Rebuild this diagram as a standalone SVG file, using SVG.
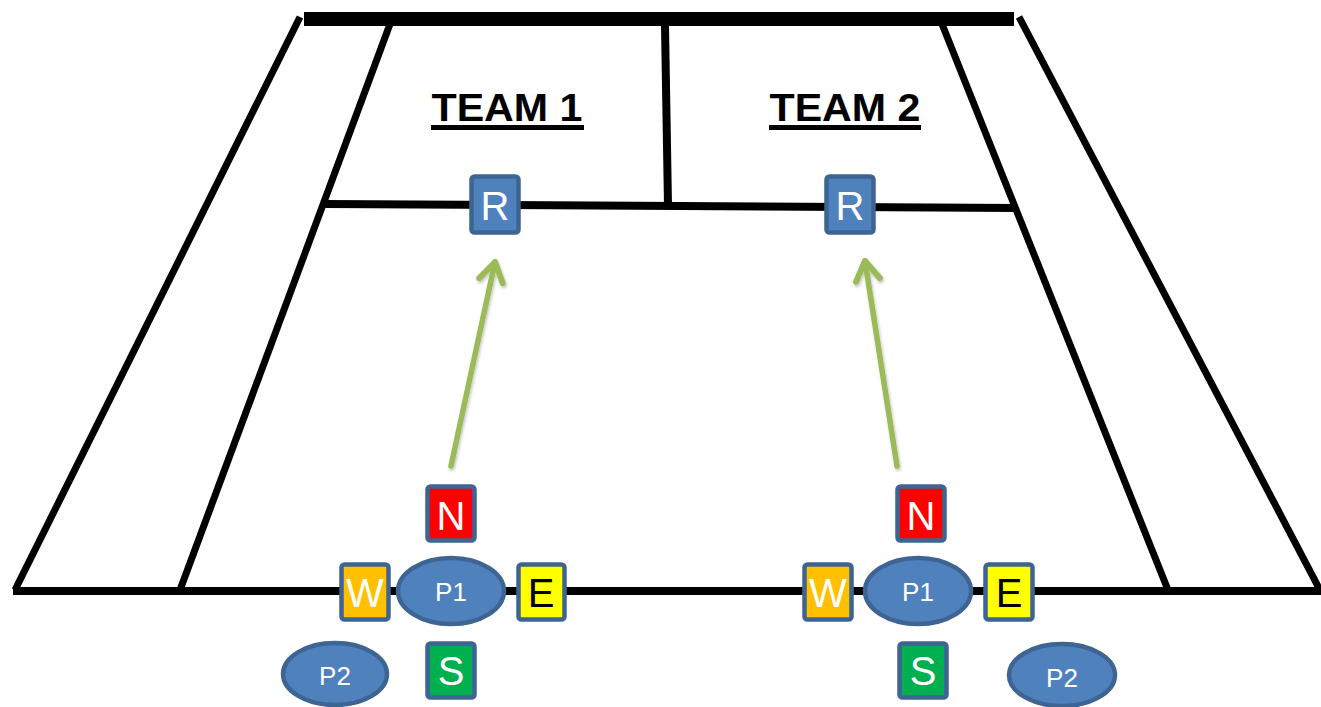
<svg xmlns="http://www.w3.org/2000/svg" width="1321" height="707" viewBox="0 0 1321 707">
  <style>
    .court { stroke: #000; fill: none; stroke-linecap: butt; }
    .box { stroke: #3D6493; stroke-width: 4.5; }
    .blue { fill: #4F81BD; }
    .lbl { font-family: "Liberation Sans", Arial, sans-serif; text-anchor: middle; fill: #fff; }
    .big { font-size: 40px; }
    .small { font-size: 26px; }
    .dark { fill: #000; }
    .team { font-family: "Liberation Sans", Arial, sans-serif; font-weight: bold; font-size: 39px; text-anchor: middle; fill: #000; }
    .arrow { stroke: #9BBB59; stroke-width: 5.5; fill: none; stroke-linecap: round; }
  </style>
  <defs>
    <marker id="chevron" markerUnits="userSpaceOnUse" viewBox="-28 -18 34 36" refX="0" refY="0" markerWidth="34" markerHeight="36" orient="auto" overflow="visible">
      <path d="M-19,-12 L0,0 L-19,12" fill="none" stroke="#9BBB59" stroke-width="6" stroke-linecap="round" stroke-linejoin="round"/>
    </marker>
    <filter id="soft" x="-50%" y="-10%" width="200%" height="120%">
      <feDropShadow dx="1" dy="2" stdDeviation="1.5" flood-color="#000" flood-opacity="0.25"/>
    </filter>
  </defs>

  <rect width="1321" height="707" fill="#fff"/>

  <!-- court lines -->
  <g id="court">
    <line class="court" x1="304" y1="19" x2="1014" y2="19" stroke-width="14"/>
    <line class="court" x1="300" y1="17" x2="15" y2="590" stroke-width="7"/>
    <line class="court" x1="1019" y1="17" x2="1320" y2="590" stroke-width="7"/>
    <line class="court" x1="390" y1="24" x2="180" y2="590" stroke-width="7"/>
    <line class="court" x1="942" y1="24" x2="1168" y2="590" stroke-width="7"/>
    <line class="court" x1="665" y1="26" x2="668" y2="206" stroke-width="8"/>
    <line class="court" x1="325" y1="204" x2="1016" y2="208" stroke-width="8"/>
    <line class="court" x1="13" y1="591" x2="1321" y2="591" stroke-width="8"/>
  </g>

  <!-- team headings -->
  <g id="team1-title">
    <text class="team" x="507" y="121" textLength="151" lengthAdjust="spacingAndGlyphs">TEAM 1</text>
    <rect x="431" y="125" width="153" height="5" fill="#000"/>
  </g>
  <g id="team2-title">
    <text class="team" x="845" y="121" textLength="151" lengthAdjust="spacingAndGlyphs">TEAM 2</text>
    <rect x="769" y="125" width="152" height="5" fill="#000"/>
  </g>

  <!-- connectors -->
  <g id="connectors" filter="url(#soft)">
    <line class="arrow" x1="451" y1="466" x2="495" y2="262" marker-end="url(#chevron)"/>
    <line class="arrow" x1="897" y1="466" x2="865" y2="261" marker-end="url(#chevron)"/>
  </g>

  <!-- receivers -->
  <g id="r1">
    <rect class="box blue" x="471.5" y="176.5" width="47" height="56" rx="3"/>
    <text class="lbl big" x="495" y="220">R</text>
  </g>
  <g id="r2">
    <rect class="box blue" x="826.5" y="176.5" width="47" height="56" rx="3"/>
    <text class="lbl big" x="850" y="220">R</text>
  </g>

  <!-- team 1 players and directions -->
  <g id="t1-n">
    <rect class="box" x="427.5" y="486.5" width="47" height="54" rx="3" fill="#FF0000"/>
    <text class="lbl big" x="451" y="530">N</text>
  </g>
  <g id="t1-w">
    <rect class="box" x="341.5" y="564.5" width="47" height="55" rx="3" fill="#FFC000"/>
    <text class="lbl big" x="365" y="607">W</text>
  </g>
  <g id="t1-p1">
    <ellipse class="box blue" cx="451" cy="591" rx="53" ry="33"/>
    <text class="lbl small" x="451" y="601">P1</text>
  </g>
  <g id="t1-e">
    <rect class="box" x="518.5" y="564.5" width="46" height="55" rx="3" fill="#FFFF00"/>
    <text class="lbl big dark" x="541" y="607">E</text>
  </g>
  <g id="t1-s">
    <rect class="box" x="427.5" y="643.5" width="47" height="54" rx="3" fill="#00B050"/>
    <text class="lbl big" x="451" y="685">S</text>
  </g>
  <g id="t1-p2">
    <ellipse class="box blue" cx="335" cy="674" rx="52" ry="31"/>
    <text class="lbl small" x="335" y="685">P2</text>
  </g>

  <!-- team 2 players and directions -->
  <g id="t2-n">
    <rect class="box" x="897.5" y="486.5" width="47" height="54" rx="3" fill="#FF0000"/>
    <text class="lbl big" x="921" y="530">N</text>
  </g>
  <g id="t2-w">
    <rect class="box" x="804.5" y="564.5" width="47" height="55" rx="3" fill="#FFC000"/>
    <text class="lbl big" x="828" y="607">W</text>
  </g>
  <g id="t2-p1">
    <ellipse class="box blue" cx="918" cy="591" rx="53" ry="33"/>
    <text class="lbl small" x="918" y="601">P1</text>
  </g>
  <g id="t2-e">
    <rect class="box" x="985.5" y="564.5" width="47" height="55" rx="3" fill="#FFFF00"/>
    <text class="lbl big dark" x="1009" y="607">E</text>
  </g>
  <g id="t2-s">
    <rect class="box" x="899.5" y="643.5" width="47" height="54" rx="3" fill="#00B050"/>
    <text class="lbl big" x="923" y="685">S</text>
  </g>
  <g id="t2-p2">
    <ellipse class="box blue" cx="1062" cy="675" rx="53" ry="31"/>
    <text class="lbl small" x="1062" y="687">P2</text>
  </g>
</svg>
